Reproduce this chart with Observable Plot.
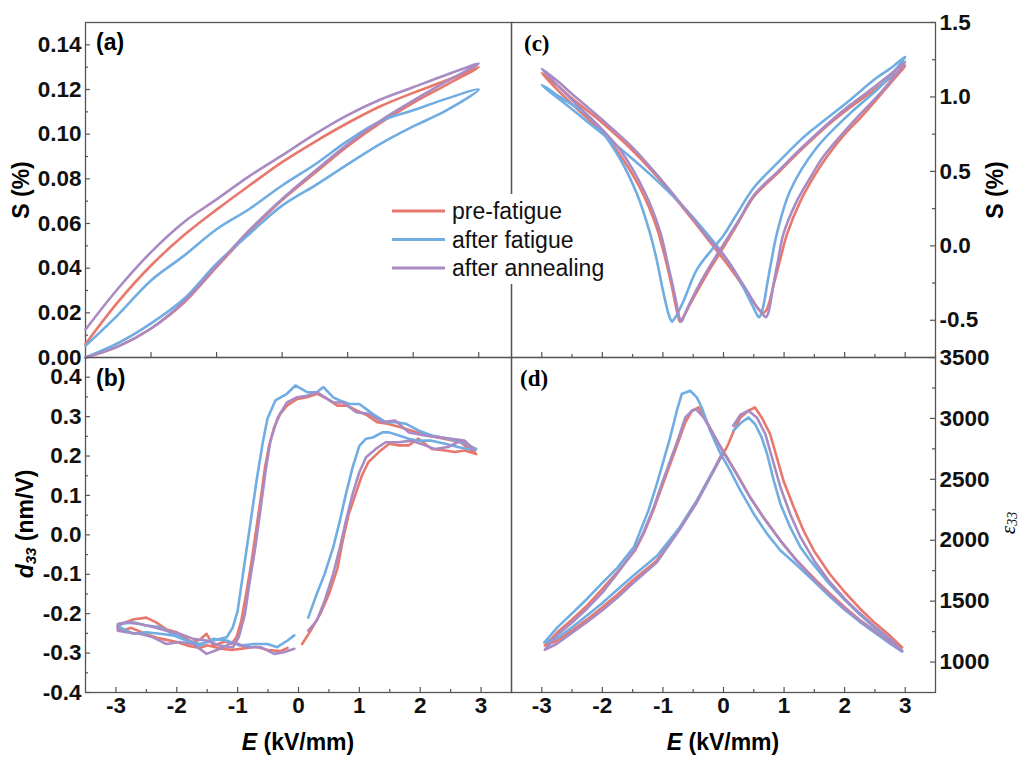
<!DOCTYPE html>
<html>
<head>
<meta charset="utf-8">
<script src="https://cdn.jsdelivr.net/npm/d3@7"></script>
<script src="https://cdn.jsdelivr.net/npm/@observablehq/plot@0.6"></script>
<style>
  body { margin: 0; background: #fff; }
  #fig { position: relative; width: 1024px; height: 757px; overflow: hidden; background: #fff; }
  #fig svg { position: absolute; overflow: visible; }
</style>
</head>
<body>
<div id="fig"></div>
<script>
// ---------- series ----------
const seriesNames = ["pre-fatigue", "after fatigue", "after annealing"];
const seriesColors = ["#E8776C", "#6FADE2", "#A98BC3"];

// (a) unipolar strain S (%) vs E (kV/mm): up to 3 kV/mm and back
const uniE   = [0, 0.25, 0.5, 0.75, 1, 1.25, 1.5, 1.75, 2, 2.25, 2.5, 2.75, 3, 2.75, 2.5, 2.25, 2, 1.75, 1.5, 1.25, 1, 0.75, 0.5, 0.25, 0];
const uniPre = [0, 0.005, 0.013, 0.0245, 0.0405, 0.0562, 0.0705, 0.0826, 0.0946, 0.105, 0.114, 0.122, 0.130, 0.124, 0.1185, 0.1125, 0.105, 0.0966, 0.0875, 0.077, 0.0662, 0.0547, 0.0412, 0.025, 0.006];
const uniFat = [0, 0.0065, 0.0153, 0.0262, 0.042, 0.0553, 0.068, 0.077, 0.0865, 0.0957, 0.1035, 0.1105, 0.120, 0.1158, 0.1107, 0.1058, 0.097, 0.0864, 0.077, 0.0665, 0.0574, 0.0455, 0.0345, 0.0192, 0.0052];
const uniAnn = [0, 0.005, 0.013, 0.025, 0.041, 0.057, 0.071, 0.0835, 0.0955, 0.106, 0.115, 0.1235, 0.1316, 0.1265, 0.121, 0.1155, 0.1085, 0.100, 0.0905, 0.0812, 0.0708, 0.0606, 0.0472, 0.031, 0.0125];

// (b) d33 (nm/V) loops
const d33PreE = [0.06, 0.20, 0.36, 0.50, 0.64, 0.72, 0.82, 0.93, 1.04, 1.15, 1.32, 1.49, 1.65, 1.81, 1.97, 2.19, 2.41, 2.57, 2.73, 2.92,
  2.66, 2.39, 2.11, 1.95, 1.68, 1.46, 1.29, 1.13, 0.96, 0.80, 0.64, 0.47, 0.31, 0.14, -0.02, -0.19, -0.30, -0.40, -0.49, -0.55, -0.61, -0.69, -0.77, -0.86, -0.94, -1.02, -1.10,
  -1.2, -1.4, -1.51, -1.62, -1.75, -1.86, -2.0, -2.17, -2.34, -2.5, -2.72, -2.89, -2.97,
  -2.9, -2.75, -2.5, -2.3, -2.0, -1.8, -1.62, -1.5, -1.3, -1.1, -0.9, -0.7, -0.5, -0.3, -0.18];
const d33PreV = [-0.277, -0.243, -0.20, -0.15, -0.085, -0.02, 0.05, 0.10, 0.15, 0.185, 0.21, 0.231, 0.227, 0.227, 0.244, 0.218, 0.214, 0.21, 0.214, 0.205,
  0.235, 0.244, 0.252, 0.26, 0.273, 0.282, 0.286, 0.303, 0.315, 0.328, 0.328, 0.345, 0.358, 0.349, 0.345, 0.328, 0.307, 0.273, 0.222, 0.171, 0.104, 0.019, -0.066, -0.15, -0.218, -0.26, -0.277,
  -0.27, -0.281, -0.251, -0.266, -0.272, -0.262, -0.247, -0.24, -0.222, -0.21, -0.215, -0.225, -0.232,
  -0.243, -0.236, -0.252, -0.262, -0.272, -0.282, -0.287, -0.28, -0.288, -0.292, -0.288, -0.284, -0.292, -0.295, -0.287];
const d33FatE = [0.16, 0.30, 0.43, 0.57, 0.68, 0.78, 0.89, 1.0, 1.11, 1.22, 1.38, 1.49, 1.65, 1.81, 1.97, 2.19, 2.41, 2.62, 2.78, 2.92,
  2.68, 2.46, 2.19, 1.97, 1.76, 1.59, 1.43, 1.22, 1.0, 0.84, 0.68, 0.57, 0.41, 0.30, 0.14, -0.05, -0.19, -0.38, -0.51, -0.59, -0.68, -0.76, -0.84, -0.92, -1.0, -1.08, -1.18,
  -1.40, -1.62, -1.84, -2.06, -2.28, -2.50, -2.72, -2.94,
  -2.94, -2.72, -2.50, -2.28, -2.06, -1.84, -1.62, -1.40, -1.18, -0.96, -0.73, -0.51, -0.35, -0.18, -0.07];
const d33FatV = [-0.21, -0.15, -0.099, -0.032, 0.036, 0.104, 0.172, 0.226, 0.244, 0.247, 0.26, 0.26, 0.252, 0.244, 0.239, 0.239, 0.231, 0.223, 0.218, 0.218,
  0.235, 0.244, 0.252, 0.265, 0.282, 0.286, 0.286, 0.307, 0.332, 0.332, 0.341, 0.349, 0.375, 0.362, 0.362, 0.379, 0.358, 0.341, 0.295, 0.231, 0.147, 0.062, -0.023, -0.108, -0.193, -0.235, -0.26,
  -0.268, -0.277, -0.268, -0.251, -0.234, -0.23, -0.222, -0.226,
  -0.234, -0.251, -0.247, -0.251, -0.255, -0.268, -0.281, -0.264, -0.268, -0.281, -0.277, -0.277, -0.285, -0.268, -0.255];
const d33AnnE = [0.16, 0.30, 0.43, 0.57, 0.68, 0.78, 0.89, 1.0, 1.11, 1.27, 1.43, 1.65, 1.86, 2.08, 2.24, 2.46, 2.68, 2.90,
  2.73, 2.51, 2.30, 2.08, 1.81, 1.59, 1.38, 1.16, 0.95, 0.73, 0.57, 0.30, 0.14, -0.03, -0.19, -0.34, -0.46, -0.54, -0.62, -0.71, -0.80, -0.88, -0.98, -1.08,
  -1.29, -1.51, -1.73, -1.95, -2.17, -2.39, -2.61, -2.83, -2.97,
  -2.97, -2.83, -2.61, -2.39, -2.17, -1.95, -1.73, -1.51, -1.29, -1.07, -0.85, -0.62, -0.40, -0.24, -0.07];
const d33AnnV = [-0.243, -0.218, -0.167, -0.099, -0.032, 0.036, 0.104, 0.159, 0.197, 0.218, 0.235, 0.235, 0.239, 0.227, 0.218, 0.223, 0.240, 0.214,
  0.239, 0.244, 0.248, 0.252, 0.26, 0.29, 0.286, 0.307, 0.311, 0.336, 0.336, 0.362, 0.353, 0.349, 0.336, 0.298, 0.239, 0.163, 0.07, -0.032, -0.117, -0.201, -0.259, -0.286,
  -0.281, -0.268, -0.264, -0.251, -0.243, -0.234, -0.226, -0.222, -0.226,
  -0.243, -0.247, -0.251, -0.26, -0.277, -0.272, -0.277, -0.302, -0.289, -0.272, -0.285, -0.285, -0.302, -0.298, -0.289];

// (c) bipolar strain S (%) butterfly loops
const bipPreE = [0, 0.2, 0.4, 0.55, 0.62, 0.66, 0.71, 0.77, 0.83, 0.95, 1.05, 1.27, 1.5, 1.71, 2.0, 2.26, 2.5, 2.75, 3.0,
  2.75, 2.5, 2.09, 1.75, 1.27, 0.9, 0.5, 0.25, 0, -0.2, -0.4, -0.55, -0.65, -0.70, -0.72,
  -0.75, -0.80, -0.86, -0.94, -1.1, -1.38, -1.76, -2.0, -2.31, -2.6, -3.0,
  -2.75, -2.5, -2.04, -1.5, -1.0, -0.5, -0.25, 0.0];
const bipPreV = [-0.09, -0.2, -0.32, -0.41, -0.44, -0.45, -0.43, -0.36, -0.26, -0.07, 0.08, 0.30, 0.47, 0.60, 0.75, 0.86, 0.97, 1.09, 1.21,
  1.125, 1.05, 0.93, 0.82, 0.64, 0.49, 0.33, 0.16, -0.01, -0.14, -0.28, -0.39, -0.47, -0.50, -0.51,
  -0.47, -0.38, -0.26, -0.12, 0.12, 0.39, 0.64, 0.76, 0.88, 0.99, 1.16,
  1.08, 0.99, 0.84, 0.64, 0.42, 0.17, 0.04, -0.09];
const bipFatE = [0, 0.17, 0.39, 0.5, 0.55, 0.58, 0.62, 0.67, 0.72, 0.8, 0.88, 1.1, 1.54, 2.09, 2.64, 3.0,
  2.75, 2.5, 2.09, 1.5, 1.27, 0.9, 0.5, 0.2, 0, -0.2, -0.44, -0.66, -0.78, -0.83, -0.85,
  -0.88, -0.92, -1.0, -1.1, -1.21, -1.43, -1.76, -2.2, -2.7, -3.0,
  -2.48, -1.87, -1.21, -0.61, -0.17, 0];
const bipFatV = [-0.06, -0.16, -0.33, -0.42, -0.46, -0.48, -0.46, -0.38, -0.26, -0.08, 0.08, 0.37, 0.66, 0.89, 1.09, 1.27,
  1.19, 1.12, 0.98, 0.79, 0.71, 0.56, 0.39, 0.2, 0.07, -0.03, -0.16, -0.37, -0.47, -0.50, -0.51,
  -0.49, -0.44, -0.30, -0.10, 0.08, 0.35, 0.62, 0.86, 1.0, 1.08,
  0.91, 0.71, 0.48, 0.24, 0.03, -0.06];
const bipAnnE = [0, 0.2, 0.4, 0.55, 0.65, 0.70, 0.74, 0.78, 0.82, 0.9, 0.99, 1.21, 1.45, 1.65, 2.2, 2.6, 3.0,
  2.75, 2.5, 2.09, 1.75, 1.27, 0.9, 0.5, 0.25, 0, -0.2, -0.4, -0.55, -0.63, -0.68, -0.70,
  -0.73, -0.77, -0.83, -0.92, -1.05, -1.3, -1.7, -2.0, -2.3, -2.6, -3.0,
  -2.75, -2.5, -2.04, -1.5, -1.0, -0.5, -0.25, 0.0];
const bipAnnV = [-0.06, -0.18, -0.31, -0.41, -0.46, -0.48, -0.45, -0.37, -0.27, -0.10, 0.08, 0.30, 0.47, 0.60, 0.86, 1.03, 1.235,
  1.15, 1.07, 0.945, 0.83, 0.65, 0.5, 0.34, 0.17, 0.01, -0.12, -0.26, -0.38, -0.45, -0.50, -0.51,
  -0.48, -0.40, -0.28, -0.12, 0.10, 0.36, 0.64, 0.78, 0.90, 1.02, 1.19,
  1.11, 1.02, 0.86, 0.66, 0.43, 0.18, 0.05, -0.06];

// (d) permittivity eps33 loops
const epsPreE = [0.03, 0.08, 0.17, 0.28, 0.41, 0.52, 0.63, 0.77, 0.88, 0.99, 1.16, 1.32, 1.49, 1.75, 2.0, 2.25, 2.5, 2.75, 2.95,
  2.75, 2.5, 2.25, 2.0, 1.75, 1.5, 1.21, 0.94, 0.66, 0.44, 0.22, 0.06, -0.11, -0.27, -0.41,
  -0.52, -0.63, -0.74, -0.88, -1.02, -1.16, -1.32, -1.46, -1.75, -2.0, -2.25, -2.5, -2.75, -2.95,
  -2.75, -2.5, -2.25, -2.0, -1.75, -1.5, -1.1, -0.72, -0.44, -0.17, 0.0];
const epsPreV = [2740, 2790, 2899, 3008, 3063, 3090, 3008, 2872, 2680, 2489, 2270, 2080, 1916, 1725, 1575, 1440, 1320, 1215, 1120,
  1170, 1255, 1345, 1450, 1565, 1685, 1834, 1998, 2189, 2353, 2544, 2680, 2817, 2967, 3090,
  3063, 2967, 2817, 2626, 2435, 2243, 2052, 1916, 1740, 1600, 1465, 1350, 1240, 1135,
  1175, 1260, 1350, 1450, 1555, 1670, 1834, 2107, 2325, 2571, 2735];
const epsFatE = [0.165, 0.28, 0.41, 0.52, 0.63, 0.72, 0.83, 0.94, 1.1, 1.27, 1.43, 1.75, 2.0, 2.25, 2.5, 2.75, 2.95,
  2.75, 2.5, 2.25, 2.0, 1.75, 1.5, 1.2, 0.94, 0.72, 0.5, 0.28, 0.11, -0.06, -0.22, -0.36, -0.44, -0.55,
  -0.69, -0.77, -0.88, -0.99, -1.1, -1.24, -1.37, -1.48, -1.75, -2.0, -2.25, -2.5, -2.75, -2.96,
  -2.75, -2.5, -2.25, -2.0, -1.75, -1.5, -1.1, -0.72, -0.44, -0.17, 0.0];
const epsFatV = [2899, 2960, 3008, 2954, 2844, 2708, 2489, 2298, 2107, 1943, 1834, 1640, 1510, 1390, 1280, 1180, 1085,
  1150, 1240, 1330, 1430, 1540, 1660, 1800, 1916, 2052, 2216, 2407, 2571, 2721, 2899, 3090, 3172, 3227,
  3200, 3063, 2844, 2653, 2462, 2243, 2080, 1943, 1775, 1650, 1520, 1400, 1280, 1160,
  1195, 1285, 1385, 1485, 1595, 1705, 1870, 2107, 2325, 2571, 2720];
const epsAnnE = [0.16, 0.28, 0.41, 0.55, 0.69, 0.80, 0.94, 1.1, 1.27, 1.5, 1.75, 2.0, 2.25, 2.5, 2.75, 2.95,
  2.75, 2.5, 2.25, 2.0, 1.75, 1.5, 1.21, 0.94, 0.66, 0.44, 0.22, 0.0, -0.17, -0.33, -0.45, -0.52,
  -0.63, -0.74, -0.88, -1.02, -1.16, -1.32, -1.46, -1.75, -2.0, -2.25, -2.5, -2.75, -2.95,
  -2.75, -2.5, -2.25, -2.0, -1.75, -1.5, -1.1, -0.72, -0.44, -0.17, 0.0];
const epsAnnV = [2940, 3030, 3063, 3008, 2872, 2680, 2435, 2216, 2025, 1830, 1660, 1520, 1400, 1290, 1190, 1093,
  1160, 1250, 1340, 1440, 1555, 1675, 1830, 1995, 2185, 2350, 2540, 2721, 2872, 3008, 3075, 3063,
  3008, 2844, 2653, 2462, 2260, 2065, 1925, 1730, 1570, 1440, 1325, 1220, 1100,
  1150, 1240, 1330, 1425, 1530, 1645, 1820, 2090, 2310, 2560, 2720];

// ---------- axis ticks and labels ----------
const uniYTicks = [0, 0.02, 0.04, 0.06, 0.08, 0.10, 0.12, 0.14];
const uniYMinor = [0.01, 0.03, 0.05, 0.07, 0.09, 0.11, 0.13];
const uniXTicks = [0.5, 1, 1.5, 2, 2.5, 3];
const d33YTicks = [-0.4, -0.3, -0.2, -0.1, 0, 0.1, 0.2, 0.3, 0.4];
const d33YMinor = [-0.35, -0.25, -0.15, -0.05, 0.05, 0.15, 0.25, 0.35];
const bipYTicks = [-0.5, 0, 0.5, 1.0, 1.5];
const bipYMinor = [-0.25, 0.25, 0.75, 1.25];
const epsYTicks = [1000, 1500, 2000, 2500, 3000, 3500];
const epsYMinor = [1250, 1750, 2250, 2750, 3250];
const fieldTicks = [-3, -2, -1, 0, 1, 2, 3];
const fieldMinor = [-2.5, -1.5, -0.5, 0.5, 1.5, 2.5];

// ---------- drawing ----------
const sans = "'Liberation Sans', Arial, Helvetica, sans-serif";
const serif = "'Liberation Serif', 'Times New Roman', serif";
const frameColor = "#555";
const tickFont = {fontSize: 22.5, fontWeight: "bold", fontFamily: sans, fill: "#111"};

const pack = (E, V, s) => E.map((e, i) => ({E: e, v: V[i], s}));
const fig = document.getElementById("fig");

function panel(cfg) {
  const iw = cfg.width - cfg.ml - cfg.mr;
  const ih = cfg.height - cfg.mt - cfg.mb;
  const side = cfg.ySide;
  const yTick = (vals, len) => Plot.tickY(vals, {
    y: d => d, stroke: frameColor, strokeWidth: 1.2,
    ...(side === "left" ? {insetRight: iw - len} : {insetLeft: iw - len})
  });
  const xTick = (vals, len) => Plot.tickX(vals, {x: d => d, stroke: frameColor, strokeWidth: 1.2, insetTop: ih - len});
  const marks = [
    yTick(cfg.yMajor, 5), yTick(cfg.yMinor, 3),
    xTick(cfg.xMajor, 5)
  ];
  if (cfg.xMinor) marks.push(xTick(cfg.xMinor, 3));
  marks.push(Plot.frame({stroke: frameColor, strokeWidth: 1.3}));
  marks.push(Plot.line(cfg.data, {x: "E", y: "v", z: "s", stroke: "s", strokeWidth: 2.6, curve: cfg.curve, strokeLinejoin: "round"}));
  marks.push(Plot.text(cfg.yMajor, {
    y: d => d, text: cfg.yFormat, frameAnchor: side, dx: side === "left" ? -4 : 4,
    textAnchor: side === "left" ? "end" : "start", ...tickFont
  }));
  if (cfg.xLabels) {
    marks.push(Plot.text(cfg.xLabels, {x: d => d, text: d => String(d), frameAnchor: "bottom", dy: 5, lineAnchor: "top", ...tickFont}));
  }
  const svg = Plot.plot({
    width: cfg.width, height: cfg.height,
    marginLeft: cfg.ml, marginRight: cfg.mr, marginTop: cfg.mt, marginBottom: cfg.mb,
    x: {domain: cfg.xDomain, axis: null},
    y: {domain: cfg.yDomain, axis: null},
    color: {domain: seriesNames, range: seriesColors},
    style: {background: "transparent", overflow: "visible"},
    marks
  });
  svg.style.left = cfg.left + "px";
  svg.style.top = cfg.top + "px";
  fig.appendChild(svg);
}

const uniData = [...pack(uniE, uniPre, seriesNames[0]), ...pack(uniE, uniFat, seriesNames[1]), ...pack(uniE, uniAnn, seriesNames[2])];
const d33Data = [...pack(d33PreE, d33PreV, seriesNames[0]), ...pack(d33FatE, d33FatV, seriesNames[1]), ...pack(d33AnnE, d33AnnV, seriesNames[2])];
const bipData = [...pack(bipPreE, bipPreV, seriesNames[0]), ...pack(bipFatE, bipFatV, seriesNames[1]), ...pack(bipAnnE, bipAnnV, seriesNames[2])];
const epsData = [...pack(epsPreE, epsPreV, seriesNames[0]), ...pack(epsFatE, epsFatV, seriesNames[1]), ...pack(epsAnnE, epsAnnV, seriesNames[2])];

// (a)
panel({left: 0, top: 0, width: 511, height: 357, ml: 85, mr: 0, mt: 22, mb: 0,
  xDomain: [0, 3.25], yDomain: [0, 0.15], ySide: "left",
  yMajor: uniYTicks, yMinor: uniYMinor, xMajor: uniXTicks,
  yFormat: d => d.toFixed(2), data: uniData, curve: "catmull-rom"});
// (b)
panel({left: 0, top: 357, width: 511, height: 400, ml: 85, mr: 0, mt: 0, mb: 65,
  xDomain: [-3.5, 3.5], yDomain: [-0.4, 0.45], ySide: "left",
  yMajor: d33YTicks, yMinor: d33YMinor, xMajor: fieldTicks, xMinor: fieldMinor, xLabels: fieldTicks,
  yFormat: d => d.toFixed(1), data: d33Data, curve: "linear"});
// (c)
panel({left: 511, top: 0, width: 513, height: 357, ml: 0, mr: 89, mt: 22, mb: 0,
  xDomain: [-3.5, 3.5], yDomain: [-0.75, 1.5], ySide: "right",
  yMajor: bipYTicks, yMinor: bipYMinor, xMajor: fieldTicks, xMinor: fieldMinor,
  yFormat: d => d.toFixed(1), data: bipData, curve: "catmull-rom"});
// (d)
panel({left: 511, top: 357, width: 513, height: 400, ml: 0, mr: 89, mt: 0, mb: 65,
  xDomain: [-3.5, 3.5], yDomain: [750, 3500], ySide: "right",
  yMajor: epsYTicks, yMinor: epsYMinor, xMajor: fieldTicks, xMinor: fieldMinor, xLabels: fieldTicks,
  yFormat: d => String(d), data: epsData, curve: "linear"});

// ---------- titles, panel letters and legend ----------
const over = d3.select(fig).append("svg")
  .attr("width", 1024).attr("height", 757)
  .style("left", "0px").style("top", "0px");

function vtext(x, y) {
  return over.append("text")
    .attr("transform", `translate(${x},${y}) rotate(-90)`)
    .attr("text-anchor", "middle").attr("dominant-baseline", "central");
}
vtext(21, 190).attr("font-family", sans).attr("font-weight", "bold").attr("font-size", 23).text("S (%)");
vtext(995, 190).attr("font-family", sans).attr("font-weight", "bold").attr("font-size", 23).text("S (%)");
const d33Label = vtext(25, 524).attr("font-family", sans).attr("font-weight", "bold").attr("font-size", 23);
d33Label.append("tspan").attr("font-style", "italic").text("d");
d33Label.append("tspan").attr("font-style", "italic").attr("font-size", 15).attr("dy", 5).text("33");
d33Label.append("tspan").attr("dy", -5).text(" (nm/V)");
const epsLabel = vtext(1008, 523).attr("font-family", serif).attr("font-style", "italic").attr("font-size", 21);
epsLabel.append("tspan").text("ε");
epsLabel.append("tspan").attr("font-size", 14).attr("dy", 4).text("33");

for (const cx of [298, 723]) {
  const t = over.append("text").attr("x", cx).attr("y", 750).attr("text-anchor", "middle")
    .attr("font-family", sans).attr("font-weight", "bold").attr("font-size", 23);
  t.append("tspan").attr("font-style", "italic").text("E");
  t.append("tspan").text(" (kV/mm)");
}

const letters = [["(a)", 96, 50, sans], ["(b)", 96, 386, sans], ["(c)", 524, 51, serif], ["(d)", 520, 386, serif]];
for (const [txt, x, y, fam] of letters) {
  over.append("text").attr("x", x).attr("y", y).attr("font-family", fam)
    .attr("font-weight", "bold").attr("font-size", 23).text(txt);
}

// legend box sits over the panel divider
over.append("rect").attr("x", 386).attr("y", 194).attr("width", 226).attr("height", 90).attr("fill", "#fff");
seriesNames.forEach((name, i) => {
  const y = 211 + i * 28.5;
  over.append("line").attr("x1", 392).attr("x2", 445).attr("y1", y).attr("y2", y)
    .attr("stroke", seriesColors[i]).attr("stroke-width", 3);
  over.append("text").attr("x", 452).attr("y", y).attr("dominant-baseline", "central")
    .attr("font-family", sans).attr("font-size", 23).attr("fill", "#111").text(name);
});
</script>
</body>
</html>
